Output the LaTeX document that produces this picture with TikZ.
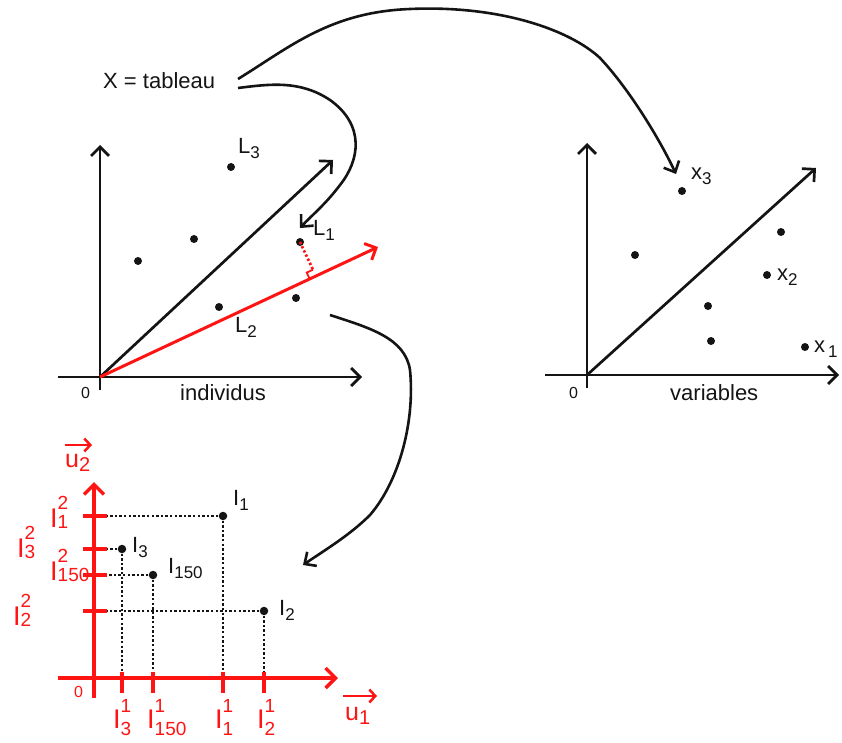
\documentclass[tikz,border=0pt]{standalone}
\usepackage{fontspec}
\setmainfont{Liberation Sans}
\usetikzlibrary{arrows.meta,calc}
\definecolor{myred}{RGB}{255,20,20}
\definecolor{ink}{RGB}{20,20,20}
\newcommand\fs[1]{\fontsize{#1}{#1}\selectfont}
% black label with subscript
\newcommand\blab[2]{{\fs{22}#1}\raisebox{-5pt}{\fs{17}#2}}
% red label with super- and subscript: base, sup, sub, raise, lower
\newcommand\rlab[5]{{\fs{27}#1}\rlap{\raisebox{#4}{\fs{19}#2}}\raisebox{-#5}{\fs{19}#3}}
\begin{document}
\begin{tikzpicture}[x=1pt,y=-1pt,
  ax/.style={ink,line width=2.7pt,-{Straight Barb[length=9pt,width=18pt]}},
  rax/.style={myred,line width=3.4pt,-{Straight Barb[length=10pt,width=20pt]}},
  raxp/.style={myred,line width=3pt,-{Straight Barb[length=9pt,width=18pt]}},
  conn/.style={ink,line width=2.6pt,-{Straight Barb[length=9pt,width=17pt]}},
  vecarr/.style={myred,line width=2.5pt,-{Straight Barb[length=6pt,width=13pt]}},
  dot/.style={circle,fill=ink,inner sep=0pt,minimum size=8pt},
  dl/.style={ink,line width=2.7pt,dash pattern=on 2.4pt off 2.2pt},
  rdl/.style={myred,line width=2.7pt,dash pattern=on 2.4pt off 2.2pt},
  rtick/.style={myred,line width=3.4pt},
  lab/.style={inner sep=0pt,anchor=base west,text=ink},
  rlabst/.style={inner sep=0pt,anchor=base west,text=myred},
  zero/.style={inner sep=0pt,anchor=base west,text=ink,font=\fs{16}}]
\useasboundingbox (0,0) rectangle (842,743);

% ---------- title ----------
\node[lab,font=\fs{22}] (X) at (103,89) {X = tableau};

% ---------- left chart (individus) ----------
\coordinate (O1) at (100,377);
\draw[ax] (100,390) -- (100,145);
\draw[ax] (58,377) -- (362,377);
\draw[ax] (O1) -- (333,160);
\draw[raxp] (O1) -- (378,247);
\node[zero] (z1) at (81,398) {0};
\node[lab,font=\fs{22}] (ind) at (180,400) {individus};

\node[dot] (L3) at (231,167) {};
\node[dot] (p1) at (194,239) {};
\node[dot] (p2) at (138,261) {};
\node[dot] (L1) at (300,242) {};
\node[dot] (L2) at (219,307) {};
\node[dot] (p3) at (296,298) {};
\node[lab] (L3l) at (238,154) {\blab{L}{3}};
\node[lab] (L1l) at (313,236) {\blab{L}{1}};
\node[lab] (L2l) at (235,332) {\blab{L}{2}};

% projection of L1 on the red axis
\coordinate (F) at (313,269.7);
\draw[rdl] (L1.center) -- (F);
\draw[myred,line width=1.8pt] (309.7,279) -- (306.7,272.6) -- (F);

% ---------- right chart (variables) ----------
\coordinate (O2) at (587,375);
\draw[ax] (587,388) -- (587,143);
\draw[ax] (545,375) -- (839,375);
\draw[ax] (O2) -- (816,168);
\node[zero] (z2) at (569,398) {0};
\node[lab,font=\fs{22}] (var) at (670,400) {variables};

\node[dot] (x3) at (682,191) {};
\node[dot] (q1) at (635,255) {};
\node[dot] (q2) at (781,232) {};
\node[dot] (x2) at (767,275) {};
\node[dot] (q3) at (708,306) {};
\node[dot] (q4) at (711,341) {};
\node[dot] (x1) at (805,347) {};
\node[lab] (x3l) at (691,180) {\blab{x}{3}};
\node[lab] (x2l) at (777,280) {\blab{x}{2}};
\node[lab] (x1l) at (814,352) {\blab{x\hspace{3pt}}{1}};

% ---------- curved connectors ----------
\coordinate (s1) at (238,79);
\coordinate (t1) at (676,174);
\coordinate (s2) at (238,88);
\coordinate (t2) at (300,228);
\coordinate (s3) at (330,315);
\coordinate (t3) at (303,565);
\draw[conn] (s1) .. controls (290,47) and (330,12) .. (410,9)
  .. controls (500,5) and (570,30) .. (600,58)
  .. controls (630,90) and (660,140) .. (t1);
\draw[conn] (s2) .. controls (270,84) and (300,80) .. (330,100)
  .. controls (365,125) and (360,160) .. (340,185)
  .. controls (325,205) and (310,217) .. (t2);
\draw[conn] (s3) .. controls (370,328) and (405,338) .. (410,370)
  .. controls (415,420) and (400,480) .. (370,515)
  .. controls (350,535) and (325,550) .. (t3);

% ---------- bottom chart ----------
\coordinate (O3) at (94,678);
\node[dot,minimum size=8.5pt] (b1) at (223,516) {};
\node[dot,minimum size=8.5pt] (b3) at (122,549) {};
\node[dot,minimum size=8.5pt] (b150) at (153,575) {};
\node[dot,minimum size=8.5pt] (b2) at (264,611) {};
\foreach \b in {b1,b3,b150,b2}{
  \draw[dl] (\b.center) -- (\b.center -| O3);
  \draw[dl] (\b.center) -- (\b.center |- O3);
}
\draw[rax] (94,698) -- (94,482);
\draw[rax] (58,678) -- (338,678);
\foreach \b in {b1,b3,b150,b2}{
  \draw[rtick] ($(\b.center -| O3)+(-11,0)$) -- ($(\b.center -| O3)+(13,0)$);
  \draw[rtick] ($(\b.center |- O3)+(0,-6)$) -- ($(\b.center |- O3)+(0,15)$);
}
\node[zero,text=myred] (z3) at (74,697) {0};

\node[lab] (b1l) at (233,505) {\blab{I}{1}};
\node[lab] (b3l) at (132,552) {\blab{I}{3}};
\node[lab] (b150l) at (168,573) {\blab{I}{150}};
\node[lab] (b2l) at (279,615) {\blab{I}{2}};

% red coordinate labels
\node[rlabst] (y1) at (50,527) {\rlab{I}{2}{1}{18pt}{1pt}};
\node[rlabst] (y3) at (17,557) {\rlab{I}{2}{3}{18pt}{1pt}};
\node[rlabst] (y150) at (50,580) {\rlab{I}{2}{150}{18pt}{1pt}};
\node[rlabst] (y2) at (13,625) {\rlab{I}{2}{2}{18pt}{1pt}};
\node[rlabst] (xx3) at (113,728) {\rlab{I}{1}{3}{16pt}{7pt}};
\node[rlabst] (xx150) at (147,728) {\rlab{I}{1}{150}{16pt}{7pt}};
\node[rlabst] (xx1) at (215,728) {\rlab{I}{1}{1}{16pt}{7pt}};
\node[rlabst] (xx2) at (257,728) {\rlab{I}{1}{2}{16pt}{7pt}};

% unit vectors
\node[rlabst,font=\fs{25}] (u2) at (65,467) {u\raisebox{-4pt}{\fs{20}2}};
\draw[vecarr] (65,445) -- (92,445);
\node[rlabst,font=\fs{25}] (u1) at (345,720) {u\raisebox{-4pt}{\fs{20}1}};
\draw[vecarr] (343,696) -- (377,696);
\end{tikzpicture}
\end{document}
